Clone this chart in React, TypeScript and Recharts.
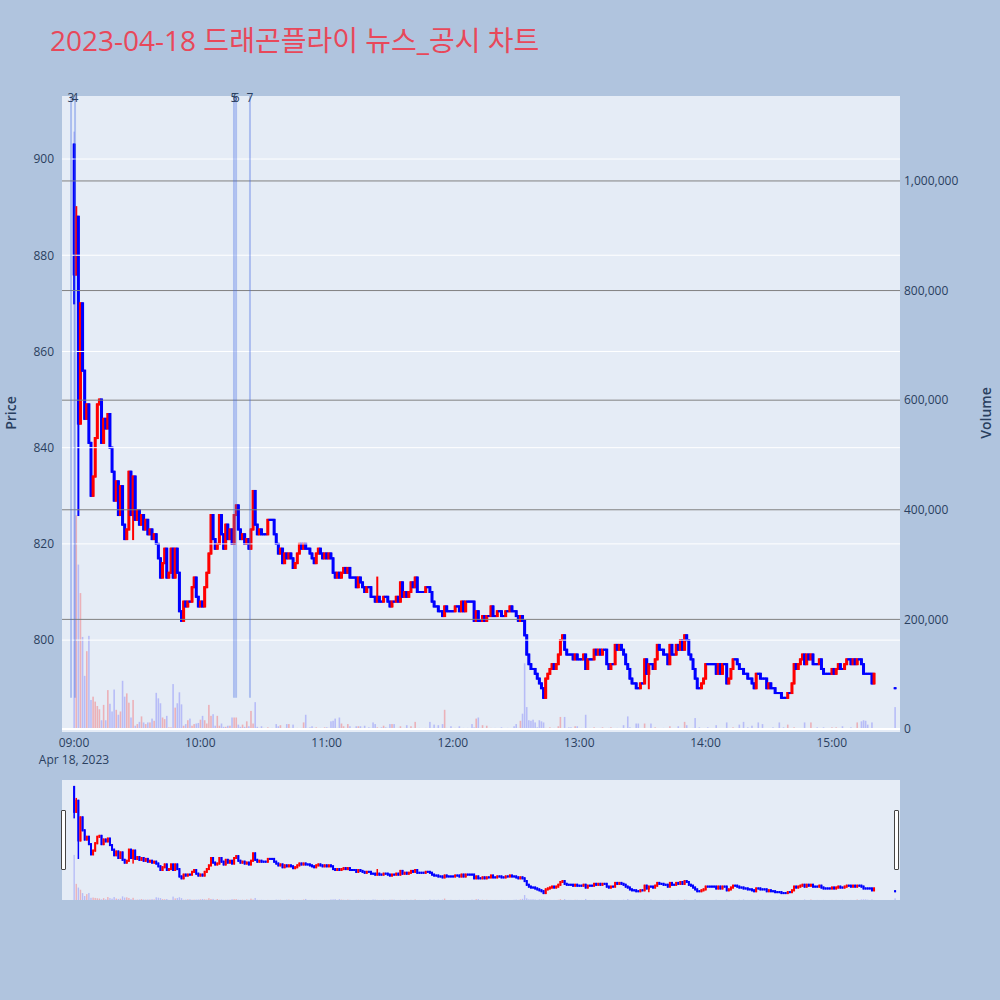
import React from 'react';
import { ComposedChart, Bar, XAxis, YAxis, ReferenceLine } from 'recharts';

// 1-minute closes, 2023-04-18 (index = minutes after 09:00)
const closes0900 = [
  876, 888, 845, 870, 856, 846, 849, 841, 830, 834,
  842, 849, 850, 841, 846, 844, 847, 840, 835, 829,
  833, 826, 832, 824, 821, 823, 835, 826, 834, 825,
  827, 824, 826, 823, 825, 822, 823, 821, 822, 820,
  817, 813, 816, 819, 813, 814, 819, 813, 819, 814,
  806, 804, 808, 807, 808, 808, 811, 813, 809, 807,
];
const closes1000 = [
  808, 807, 811, 814, 818, 826, 821, 819, 820, 826,
  822, 819, 824, 821, 823, 820, 826, 828, 823, 821,
  822, 820, 821, 819, 823, 831, 824, 822, 823, 822,
  822, 822, 825, 825, 825, 822, 820, 818, 819, 816,
  818, 817, 818, 817, 815, 816, 818, 820, 819, 820,
  819, 819, 818, 817, 816, 818, 819, 818, 817, 818,
];
const closes1100 = [
  817, 818, 817, 814, 813, 814, 813, 814, 815, 814,
  815, 813, 813, 813, 811, 813, 812, 811, 810, 811,
  811, 809, 809, 808, 809, 808, 808, 809, 809, 808,
  807, 808, 808, 809, 808, 812, 809, 810, 809, 810,
  812, 811, 813, 810, 810, 810, 810, 811, 811, 810,
  808, 807, 807, 806, 806, 805, 807, 806, 806, 806,
];
const closes1200 = [
  806, 807, 807, 806, 808, 806, 808, 808, 808, 808,
  804, 806, 804, 804, 805, 804, 805, 805, 807, 805,
  805, 806, 806, 805, 805, 806, 806, 807, 806, 806,
  805, 804, 805, 804, 801, 797, 795, 794, 794, 793,
  792, 791, 790, 788, 792, 793, 794, 795, 794, 795,
  797, 800, 801, 798, 797, 797, 797, 796, 797, 796,
];
const closes1300 = [
  796, 796, 797, 794, 796, 796, 796, 798, 797, 798,
  797, 798, 798, 795, 794, 795, 795, 799, 798, 799,
  798, 797, 795, 794, 792, 791, 791, 790, 790, 791,
  791, 796, 793, 795, 795, 794, 796, 799, 798, 798,
  797, 797, 795, 799, 797, 797, 799, 798, 800, 798,
  801, 800, 797, 796, 794, 792, 790, 790, 791, 792,
];
const closes1400 = [
  795, 795, 795, 795, 795, 793, 795, 793, 795, 795,
  791, 792, 794, 796, 796, 795, 794, 794, 793, 793,
  792, 792, 791, 790, 793, 793, 792, 792, 792, 790,
  791, 790, 790, 789, 789, 789, 788, 788, 788, 789,
  789, 791, 795, 794, 795, 796, 797, 795, 797, 796,
  797, 795, 795, 795, 796, 794, 793, 793, 793, 793,
];
const closes1500 = [
  794, 793, 794, 795, 794, 794, 795, 796, 796, 795,
  796, 795, 796, 796, 795, 793, 793, 793, 793, 791, 793,
];
const firstOpen = 903;
const highWicks: [number, number][] = [[1, 890], [144, 813]];
const lowWicks: [number, number][] = [[0, 870], [2, 826], [28, 821], [273, 790]];

// closing auction at 15:30
const auctionMinute = 390;
const auctionPrice = 790;
const auctionVolume = 40;

// volume in thousands of shares
const vol0900 = [
  1090, 390, 300, 248, 168, 97, 142, 170, 53, 59,
  50, 42, 36, 16, 44, 16, 71, 46, 32, 72,
  35, 26, 32, 88, 59, 65, 48, 21, 53, 6,
  9, 13, 23, 12, 9, 12, 12, 19, 15, 66,
  56, 47, 21, 18, 24, 3, 3, 82, 39, 47,
  67, 45, 6, 9, 16, 19, 6, 9, 10, 11,
];
const vol1000 = [
  17, 24, 16, 10, 44, 24, 27, 6, 24, 6,
  10, 4, 4, 6, 6, 21, 21, 21, 8, 4,
  8, 4, 14, 5, 33, 10, 49, 4, 2, 5,
  2, 1, 3, 1, 2, 1, 9, 5, 7, 1,
  2, 9, 9, 2, 8, 1, 2, 1, 2, 12,
  26, 2, 3, 5, 2, 3, 1, 2, 1, 3,
];
const vol1100 = [
  3, 2, 14, 15, 19, 2, 21, 10, 5, 2,
  9, 5, 1, 2, 5, 5, 5, 2, 6, 1,
  3, 2, 12, 9, 3, 1, 3, 6, 3, 2,
  9, 9, 9, 1, 2, 5, 1, 2, 7, 1,
  5, 2, 13, 1, 2, 1, 1, 2, 1, 13,
  2, 8, 2, 7, 1, 9, 35, 2, 1, 5,
];
const vol1200 = [
  1, 2, 1, 5, 1, 2, 1, 2, 1, 9,
  3, 19, 21, 2, 7, 1, 6, 1, 2, 1,
  2, 1, 1, 3, 1, 1, 2, 1, 1, 5,
  9, 2, 15, 28, 120, 40, 16, 15, 17, 12,
  3, 16, 14, 12, 2, 1, 3, 1, 2, 1,
  5, 22, 1, 22, 2, 3, 3, 1, 5, 5,
];
const vol1300 = [
  1, 2, 1, 26, 1, 2, 1, 3, 1, 1,
  2, 3, 1, 1, 2, 3, 1, 1, 2, 1,
  1, 7, 1, 23, 3, 1, 1, 10, 10, 1,
  1, 10, 1, 1, 10, 1, 3, 1, 1, 1,
  2, 1, 1, 5, 1, 1, 1, 5, 1, 1,
  13, 7, 1, 1, 2, 20, 1, 3, 1, 1,
];
const vol1400 = [
  1, 3, 1, 1, 1, 7, 1, 1, 1, 1,
  12, 1, 1, 3, 1, 1, 8, 1, 13, 1,
  3, 1, 6, 1, 1, 12, 1, 9, 1, 1,
  1, 1, 3, 1, 1, 12, 1, 3, 1, 8,
  1, 1, 3, 1, 1, 1, 1, 12, 1, 1,
  12, 1, 1, 3, 1, 1, 3, 1, 1, 1,
];
const vol1500 = [
  3, 1, 3, 1, 1, 5, 1, 1, 1, 3,
  1, 1, 12, 1, 14, 16, 15, 8, 1, 12, 1,
];

// news / disclosure markers
const newsIds = ['3', '4', '5', '6', '7'];
const newsMinutes = [-1.4, 0.5, 76, 77, 83.6];

const priceTicks = [800, 820, 840, 860, 880, 900];
const volumeTicks = [0, 200000, 400000, 600000, 800000, 1000000];
const timeTicks = [0, 60, 120, 180, 240, 300, 360];
const timeLabels = ['09:00', '10:00', '11:00', '12:00', '13:00', '14:00', '15:00'];
const dateLabel = 'Apr 18, 2023';
const title = '2023-04-18 드래곤플라이 뉴스_공시 차트';

const xDomain = [-5.7, 392.4];
const priceDomain = [780.9, 913.1];
const volDomain = [-5475, 1155000];
const miniPriceDomain = [780.5, 910.5];
const miniVolDomain = [0, 2900000];

const FONT = "'Open Sans', 'Noto Sans CJK KR', sans-serif";
const TEXT = '#2a3f5f';
const UP = '#ff0000';
const DOWN = '#0000ff';

const closes = [...closes0900, ...closes1000, ...closes1100, ...closes1200, ...closes1300, ...closes1400, ...closes1500];
const volumes = [...vol0900, ...vol1000, ...vol1100, ...vol1200, ...vol1300, ...vol1400, ...vol1500];

interface Row {
  t: number;
  open: number;
  high: number;
  low: number;
  close: number;
  volume: number;
}

const rows: Row[] = closes.map((c, i) => {
  const open = i === 0 ? firstOpen : closes[i - 1];
  let high = Math.max(open, c);
  let low = Math.min(open, c);
  const hw = highWicks.find((w) => w[0] === i);
  const lw = lowWicks.find((w) => w[0] === i);
  if (hw) high = Math.max(high, hw[1]);
  if (lw) low = Math.min(low, lw[1]);
  return { t: i, open, high, low, close: c, volume: volumes[i] * 1000 };
});
rows.push({
  t: auctionMinute,
  open: auctionPrice,
  high: auctionPrice,
  low: auctionPrice,
  close: auctionPrice,
  volume: auctionVolume * 1000,
});

const lowestLow = Math.min(...rows.map((r) => r.low));

const makeCandle = (bodyW: number, wickW: number) => (props: any) => {
  const { x, y, width, height, payload } = props;
  if (x == null || y == null || !payload) return <g />;
  const cx = x + width / 2;
  const { open, close, high, low } = payload as Row;
  const span = high - low;
  const yOf = (v: number) => (span > 0 ? y + ((high - v) / span) * height : y);
  const top = yOf(Math.max(open, close));
  const bot = yOf(Math.min(open, close));
  const color = close > open ? UP : DOWN;
  return (
    <g>
      <rect x={cx - wickW / 2} y={y - 1} width={wickW} height={Math.max(height, 0) + 2} fill={color} />
      <rect x={cx - bodyW / 2} y={top - 1} width={bodyW} height={bot - top + 2} fill={color} />
    </g>
  );
};

const makeVolume = (w: number) => (props: any) => {
  const { x, y, width, height, payload } = props;
  if (x == null || y == null || !payload) return <g />;
  const cx = x + width / 2;
  const up = payload.close > payload.open;
  return (
    <rect
      x={cx - w / 2}
      y={y}
      width={w}
      height={Math.max(height, 0)}
      fill={up ? 'rgba(255,0,0,0.25)' : 'rgba(0,0,255,0.2)'}
    />
  );
};

const TimeTick = (props: any) => {
  const { x, y, payload, index } = props;
  const label = timeLabels[timeTicks.indexOf(payload.value)] ?? '';
  return (
    <text x={x} y={y} textAnchor="middle" fill={TEXT} fontSize={12} fontFamily={FONT}>
      <tspan x={x} dy="0.71em">{label}</tspan>
      {index === 0 && (
        <tspan x={x} dy="1.45em">{dateLabel}</tspan>
      )}
    </text>
  );
};

const NewsLabel = (props: any) => {
  const { viewBox, text } = props;
  if (!viewBox) return null;
  return (
    <text
      x={viewBox.x + (viewBox.width || 0) / 2}
      y={viewBox.y + 1}
      textAnchor="middle"
      dominantBaseline="central"
      fontSize={12}
      fill={TEXT}
      fontFamily={FONT}
    >
      {text}
    </text>
  );
};

const CandleMain = makeCandle(3, 2);
const CandleMini = makeCandle(2, 1.5);
const VolumeMain = makeVolume(1.6);
const VolumeMini = makeVolume(1.4);

export default function App() {
  return (
    <div style={{ position: 'absolute', left: 0, top: 0, width: 1000, height: 1000, background: '#b0c4de', fontFamily: FONT }}>
      <div style={{ position: 'absolute', left: 62, top: 96, width: 838, height: 636, background: '#e5ecf6' }} />
      <div style={{ position: 'absolute', left: 62, top: 780, width: 838, height: 120, background: '#e5ecf6' }} />

      <div style={{ position: 'absolute', left: 0, top: 0 }}>
        <ComposedChart width={1000} height={780} data={rows} margin={{ top: 96, right: 10, bottom: 8, left: 8 }}>
          <XAxis
            xAxisId="main"
            dataKey="t"
            type="number"
            domain={xDomain}
            allowDataOverflow
            ticks={timeTicks}
            tick={<TimeTick />}
            tickLine={false}
            axisLine={false}
            tickSize={4}
            height={40}
            interval={0}
          />
          <XAxis xAxisId="candle" dataKey="t" type="number" domain={xDomain} allowDataOverflow hide height={0} />
          <YAxis
            yAxisId="price"
            orientation="left"
            type="number"
            domain={priceDomain}
            allowDataOverflow
            ticks={priceTicks}
            width={54}
            tickLine={false}
            axisLine={false}
            tickSize={6}
            tickMargin={2}
            tick={{ fill: TEXT, fontSize: 12, fontFamily: FONT }}
          />
          <YAxis
            yAxisId="vol"
            orientation="right"
            type="number"
            domain={volDomain}
            allowDataOverflow
            ticks={volumeTicks}
            width={90}
            tickLine={false}
            axisLine={false}
            tickSize={2}
            tickMargin={2}
            tickFormatter={(v: number) => v.toLocaleString('en-US')}
            tick={{ fill: TEXT, fontSize: 12, fontFamily: FONT, textAnchor: 'start' }}
          />
          {priceTicks.map((v) => (
            <ReferenceLine key={`pg${v}`} xAxisId="main" yAxisId="price" y={v} stroke="#ffffff" strokeWidth={1} />
          ))}
          <ReferenceLine xAxisId="main" yAxisId="vol" y={0} stroke="#ffffff" strokeWidth={2} />
          {volumeTicks.slice(1).map((v) => (
            <ReferenceLine key={`vg${v}`} xAxisId="main" yAxisId="vol" y={v} stroke="#808080" strokeWidth={1} />
          ))}
          <Bar xAxisId="main" yAxisId="vol" dataKey="volume" shape={VolumeMain} isAnimationActive={false} />
          {newsMinutes.map((t, i) => (
            <ReferenceLine
              key={`n${i}`}
              xAxisId="main"
              yAxisId="price"
              segment={[{ x: t, y: lowestLow }, { x: t, y: priceDomain[1] }]}
              stroke="rgba(65,105,225,0.35)"
              strokeWidth={2}
              label={<NewsLabel text={newsIds[i]} />}
            />
          ))}
          <Bar
            xAxisId="candle"
            yAxisId="price"
            dataKey={(d: Row) => [d.low, d.high]}
            shape={CandleMain}
            isAnimationActive={false}
          />
        </ComposedChart>
      </div>

      <div style={{ position: 'absolute', left: 62, top: 780 }}>
        <ComposedChart width={838} height={120} data={rows} margin={{ top: 0, right: 0, bottom: 0, left: 0 }}>
          <XAxis xAxisId="main" dataKey="t" type="number" domain={xDomain} allowDataOverflow hide height={0} />
          <XAxis xAxisId="candle" dataKey="t" type="number" domain={xDomain} allowDataOverflow hide height={0} />
          <YAxis yAxisId="price" type="number" domain={miniPriceDomain} allowDataOverflow hide width={0} />
          <YAxis yAxisId="vol" type="number" domain={miniVolDomain} allowDataOverflow hide width={0} />
          <Bar xAxisId="main" yAxisId="vol" dataKey="volume" shape={VolumeMini} isAnimationActive={false} />
          <Bar
            xAxisId="candle"
            yAxisId="price"
            dataKey={(d: Row) => [d.low, d.high]}
            shape={CandleMini}
            isAnimationActive={false}
          />
        </ComposedChart>
      </div>

      <div style={{ position: 'absolute', left: 61, top: 810, width: 3, height: 58, background: '#fff', border: '1px solid #444', borderRadius: 1 }} />
      <div style={{ position: 'absolute', left: 894, top: 810, width: 3, height: 58, background: '#fff', border: '1px solid #444', borderRadius: 1 }} />

      <svg width={1000} height={1000} style={{ position: 'absolute', left: 0, top: 0, pointerEvents: 'none' }}>
        <text x={50} y={51} fontSize={28} fill="#e8485a" fontFamily={FONT}>
          {title}
        </text>
        <text
          x={10}
          y={413}
          transform="rotate(-90 10 413)"
          textAnchor="middle"
          dominantBaseline="central"
          fontSize={14}
          fontWeight={600}
          fill={TEXT}
          fontFamily={FONT}
        >
          Price
        </text>
        <text
          x={985}
          y={413}
          transform="rotate(-90 985 413)"
          textAnchor="middle"
          dominantBaseline="central"
          fontSize={14}
          fontWeight={600}
          fill={TEXT}
          fontFamily={FONT}
        >
          Volume
        </text>
      </svg>
    </div>
  );
}
